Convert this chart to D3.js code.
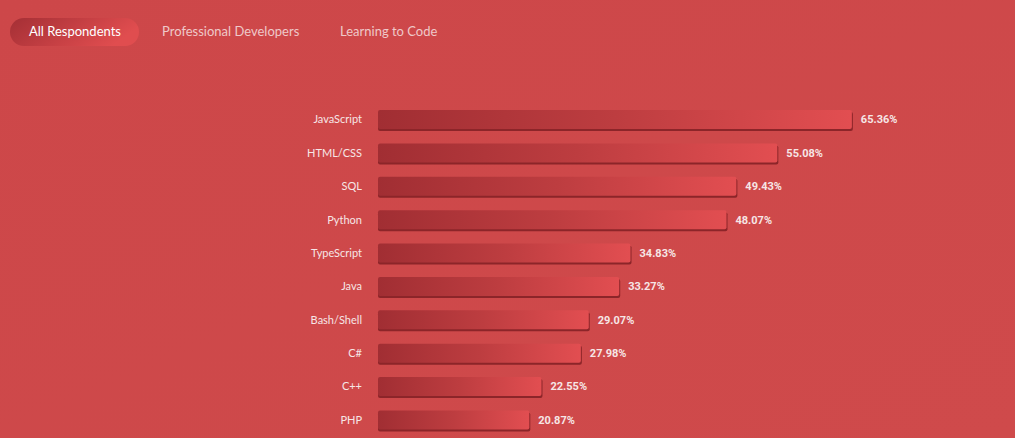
<!DOCTYPE html>
<html>
<head>
<meta charset="utf-8">
<script src="https://cdn.jsdelivr.net/npm/d3@7"></script>
<style>
  html, body { margin: 0; padding: 0; }
  body { width: 1015px; height: 438px; overflow: hidden; background: #ce4849; }
</style>
</head>
<body>
<div id="chart"></div>
<script>
// data
var tabs = ["All Respondents", "Professional Developers", "Learning to Code"];
var languages = ["JavaScript", "HTML/CSS", "SQL", "Python", "TypeScript", "Java", "Bash/Shell", "C#", "C++", "PHP"];
var shares = [65.36, 55.08, 49.43, 48.07, 34.83, 33.27, 29.07, 27.98, 22.55, 20.87];

var W = 1015, H = 438;
var barLeft = 378, barH = 19;

var svg = d3.select("#chart")
  .append("svg")
    .attr("width", W)
    .attr("height", H);

var defs = svg.append("defs");

// page background, faint diagonal sheen
var bg = defs.append("linearGradient")
  .attr("id", "bg")
  .attr("x1", "0").attr("y1", "0").attr("x2", "1").attr("y2", "1");
bg.append("stop").attr("offset", "0").attr("stop-color", "#cd4749");
bg.append("stop").attr("offset", "1").attr("stop-color", "#cf4a4b");

var barGrad = defs.append("linearGradient")
  .attr("id", "barGrad")
  .attr("x1", "0").attr("y1", "0").attr("x2", "1").attr("y2", "0");
barGrad.append("stop").attr("offset", "0").attr("stop-color", "#a12e33");
barGrad.append("stop").attr("offset", "0.5").attr("stop-color", "#bd3d40");
barGrad.append("stop").attr("offset", "1").attr("stop-color", "#e24e51");

var pillGrad = defs.append("linearGradient")
  .attr("id", "pillGrad")
  .attr("x1", "0").attr("y1", "0").attr("x2", "1").attr("y2", "0.3");
pillGrad.append("stop").attr("offset", "0").attr("stop-color", "#a42f35");
pillGrad.append("stop").attr("offset", "1").attr("stop-color", "#e04d4f");

svg.append("rect")
  .attr("width", W).attr("height", H)
  .attr("fill", "url(#bg)");

// tabs
var tabX = [29, 162, 340];
svg.append("rect")
  .attr("x", 10).attr("y", 18)
  .attr("width", 129).attr("height", 28)
  .attr("rx", 14)
  .attr("fill", "url(#pillGrad)");

svg.selectAll(".tab")
  .data(tabs)
  .enter()
  .append("text")
    .attr("class", "tab")
    .attr("x", function(d, i) { return tabX[i]; })
    .attr("y", 36)
    .style("font-family", "Lato, 'Open Sans', sans-serif")
    .style("font-size", "13px")
    .style("fill", function(d, i) { return i === 0 ? "#ffffff" : "#efc9c9"; })
    .text(function(d) { return d; });

// scales
var x = d3.scaleLinear()
  .domain([0, 100])
  .range([0, 725]);

var y = d3.scalePoint()
  .domain(languages)
  .range([119.5, 420]);

var rows = svg.append("g")
  .selectAll("g")
  .data(languages)
  .enter()
  .append("g");

// bar shadow / bottom edge
rows.append("rect")
  .attr("x", barLeft)
  .attr("y", function(d) { return y(d) - barH / 2 + 2; })
  .attr("width", function(d, i) { return x(shares[i]) + 1; })
  .attr("height", barH)
  .attr("rx", 2)
  .attr("fill", "#8c2529");

rows.append("rect")
  .attr("x", barLeft)
  .attr("y", function(d) { return y(d) - barH / 2; })
  .attr("width", function(d, i) { return x(shares[i]); })
  .attr("height", barH)
  .attr("rx", 2)
  .attr("fill", "url(#barGrad)");

// category labels
rows.append("text")
  .attr("x", 362)
  .attr("y", function(d) { return y(d); })
  .attr("dy", "0.35em")
  .attr("text-anchor", "end")
  .style("font-family", "Lato, 'Open Sans', sans-serif")
  .style("font-size", "11px")
  .style("fill", "#f6e6e6")
  .text(function(d) { return d; });

// value labels
rows.append("text")
  .attr("x", function(d, i) { return barLeft + x(shares[i]) + 9; })
  .attr("y", function(d) { return y(d); })
  .attr("dy", "0.35em")
  .style("font-family", "Roboto, 'Liberation Sans', sans-serif")
  .style("font-weight", "bold")
  .style("font-size", "11px")
  .style("fill", "#f6e6e6")
  .text(function(d, i) { return shares[i].toFixed(2) + "%"; });
</script>
</body>
</html>
